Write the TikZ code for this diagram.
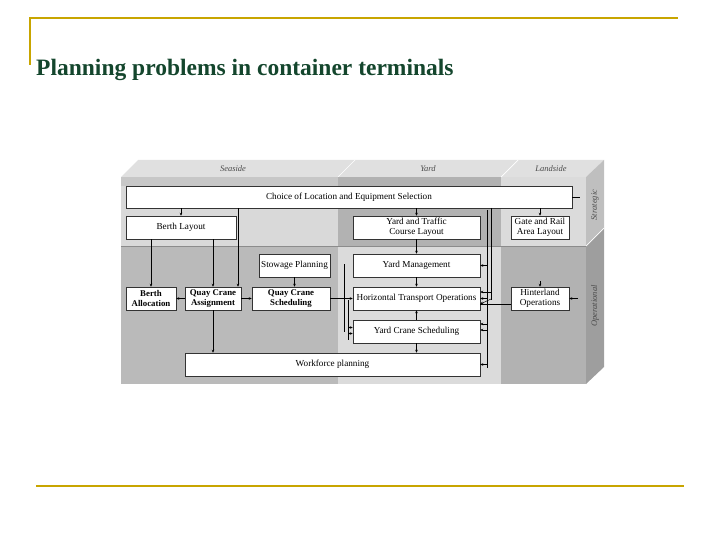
\documentclass[tikz,border=0pt]{standalone}
\usepackage{fontspec}
\setmainfont{Liberation Serif}
\usetikzlibrary{arrows.meta}
\begin{document}
\begin{tikzpicture}[x=1pt,y=-1pt,
  bx/.style={draw=black!80,fill=white,line width=0.5pt,inner sep=0pt,font=\fontsize{9.2}{9.6}\selectfont,align=center},
  bb/.style={bx,font=\bfseries\fontsize{8.8}{9.4}\selectfont},
  ar/.style={line width=0.5pt,-{Stealth[length=3pt,width=2.6pt]}},
  ln/.style={line width=0.5pt},
  lab/.style={font=\itshape\fontsize{8.5}{9}\selectfont,text=black!70}]
\useasboundingbox (0,0) rectangle (720,540);
\definecolor{gold}{RGB}{200,165,0}
\definecolor{ttl}{RGB}{20,70,45}
% frame lines
\draw[gold,line width=2pt] (30,65) -- (30,18) -- (678,18);
\draw[gold,line width=2pt] (36,486) -- (684,486);
\node[anchor=base west,inner sep=0pt,font=\bfseries\fontsize{23.5}{25}\selectfont,text=ttl] (title) at (36,76) {Planning problems in container terminals};
% cube faces
\fill[black!12] (121,177) -- (138,160) -- (604,160) -- (586,177) -- cycle;
\draw[white,line width=0.7pt] (338,177) -- (355,160) (501,177) -- (518,160);
\fill[black!25] (586,177) -- (604,160) -- (604,228) -- (586,246) -- cycle;
\fill[black!38] (586,246) -- (604,228) -- (604,367) -- (586,384) -- cycle;
\draw[white,line width=0.7pt] (586,246) -- (604,228);
% front
\fill[black!15] (121,177) rectangle (338,246);
\fill[black!27] (121,246) rectangle (338,384);
\fill[black!30] (338,177) rectangle (501,246);
\fill[black!14] (338,246) rectangle (501,384);
\fill[black!14] (501,177) rectangle (586,246);
\fill[black!30] (501,246) rectangle (586,384);
\fill[black!22] (121,177) rectangle (338,186);
\draw[black!45,line width=0.4pt] (121,246) -- (586,246);
\node[lab] (ls) at (233,169) {Seaside};
\node[lab] (ly) at (428,169) {Yard};
\node[lab] (ll) at (551,169) {Landside};
\node[lab,rotate=90] (lst) at (595,205) {Strategic};
\node[lab,rotate=90] (lop) at (595,306) {Operational};
% boxes
\node[bx,minimum width=446,minimum height=22] (ch) at (349,197) {Choice of Location and Equipment Selection};
\node[bx,minimum width=110,minimum height=23] (bl) at (181,227.5) {Berth Layout};
\node[bx,minimum width=127,minimum height=23] (yt) at (416.5,227.5) {Yard and Traffic\\Course Layout};
\node[bx,minimum width=58,minimum height=23] (gr) at (540,227.5) {Gate and Rail\\Area Layout};
\node[bx,minimum width=71,minimum height=23] (sp) at (294.5,265.5) {Stowage Planning};
\node[bx,minimum width=127,minimum height=23] (ym) at (416.5,265.5) {Yard Management};
\node[bb,minimum width=50,minimum height=23] (ba) at (151,298.5) {Berth\\Allocation};
\node[bb,minimum width=56,minimum height=23] (qa) at (213,298.5) {Quay Crane\\Assignment};
\node[bb,minimum width=78,minimum height=23] (qs) at (291,298.5) {Quay Crane\\Scheduling};
\node[bx,minimum width=127,minimum height=23] (ht) at (416.5,298.5) {Horizontal Transport Operations};
\node[bx,minimum width=58,minimum height=23] (hi) at (540,298.5) {Hinterland\\Operations};
\node[bx,minimum width=127,minimum height=23] (yc) at (416.5,331.5) {Yard Crane Scheduling};
\node[bx,minimum width=295,minimum height=23] (wf) at (332.5,364.5) {Workforce planning};
% connectors seaside
\draw[ar] (ch.south -| bl.north) -- (bl.north);
\draw[ar] (ch.south -| 238,0) -- (238,0 |- qa.north);
\draw[ar] (bl.south -| ba.north) -- (ba.north);
\draw[ar] (bl.south -| qa.north) -- (qa.north);
\draw[ar] (qa.west) -- (ba.east);
\draw[ar] (qa.east) -- (qs.west);
\draw[ar] (sp.south) -- (sp.south |- qs.north);
\draw[ar] (qa.south) -- (qa.south |- wf.north);
\draw[ar] (qs.east) -- (ht.west);
\coordinate (v1a) at (344,264); \coordinate (v1b) at (344,332);
\draw[ln] (v1a) -- (v1b);
\coordinate (v2a) at (348,300); \coordinate (v2b) at (348,340);
\draw[ln] (v2a) -- (v2b);
\draw[ar] (348,327.5) -- (yc.west |- 0,327.5);
\draw[ar] (348,333.5) -- (yc.west |- 0,333.5);
% yard
\draw[ar] (ch.south -| yt.north) -- (yt.north);
\draw[ar] (yt.south) -- (ym.north);
\draw[ar] (ym.south) -- (ht.north);
\draw[ar] (yc.north) -- (ht.south);
\draw[ar] (yc.south) -- (yc.south |- wf.north);
% right bus
\coordinate (b1a) at (491,208); \coordinate (b1b) at (491,300);
\coordinate (b2a) at (487,210); \coordinate (b2b) at (487,368);
\draw[ln] (b1a) -- (b1b);
\draw[ln] (b2a) -- (b2b);
\draw[ar] (b2a |- ym.east) -- (ym.east);
\draw[ar] (491,292) -- (ht.east |- 0,292);
\draw[ar] (b2a |- ht.east) -- (ht.east);
\draw[ar] (491,299) -- (ht.east |- 0,304);
\draw[ar] (487,324) -- (yc.east |- 0,324);
\draw[ar] (487,330) -- (yc.east |- 0,330);
\draw[ar] (b2a |- wf.east) -- (wf.east);
\draw[ln] (480,304) -- (hi.west |- 0,304);
% landside
\draw[ar] (ch.south -| gr.north) -- (gr.north);
\draw[ln] (ch.east) -- (580,197);
\draw[ar] (540,281) -- (hi.north);
\draw[ar] (578,298.5) -- (hi.east);
\end{tikzpicture}
\end{document}
